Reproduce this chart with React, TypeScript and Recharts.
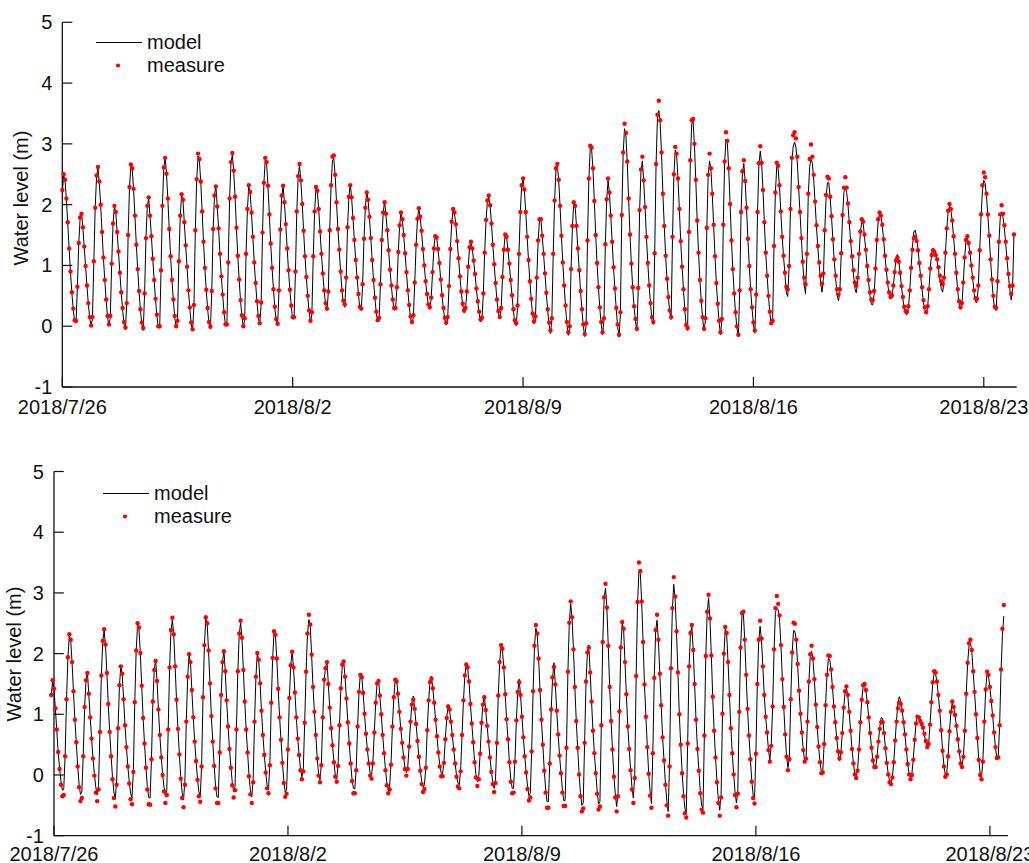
import { ComposedChart, Label, Legend, Line, ReferenceLine, XAxis, YAxis } from "recharts";

// hourly water level in metres, one row per tide cycle
const measureTop = [
  2.24, 2.5, 2.41, 2.1, 1.71, 1.28, 0.9, 0.56, 0.29, 0.1, 0.09,
  0.65, 1.37, 1.79, 1.85, 1.63, 1.31, 0.99, 0.67, 0.38, 0.15, 0.01, 0.15,
  1.07, 1.95, 2.48, 2.62, 2.38, 2.0, 1.55, 1.13, 0.76, 0.44, 0.17, 0.03, 0.17,
  1.03, 1.69, 1.98, 1.88, 1.55, 1.23, 0.88, 0.56, 0.3, 0.07, -0.02,
  0.38, 1.5, 2.29, 2.66, 2.6, 2.26, 1.82, 1.34, 0.94, 0.58, 0.28, 0.06, -0.03,
  0.54, 1.45, 1.98, 2.12, 1.82, 1.48, 1.11, 0.76, 0.45, 0.19, 0.0, 0.0,
  0.92, 1.98, 2.61, 2.77, 2.51, 2.1, 1.6, 1.15, 0.76, 0.44, 0.17, 0.0, 0.09,
  1.07, 1.82, 2.17, 2.08, 1.71, 1.33, 0.98, 0.59, 0.31, 0.06, -0.05,
  0.35, 1.58, 2.42, 2.84, 2.75, 2.38, 1.89, 1.39, 0.96, 0.6, 0.3, 0.07, -0.01,
  0.58, 1.6, 2.15, 2.3, 1.97, 1.61, 1.19, 0.82, 0.52, 0.23, 0.03, 0.03,
  1.05, 2.1, 2.7, 2.85, 2.56, 2.13, 1.62, 1.16, 0.77, 0.43, 0.18, 0.0, 0.13,
  1.19, 1.93, 2.32, 2.21, 1.87, 1.47, 1.05, 0.71, 0.41, 0.17, 0.05,
  0.39, 1.54, 2.36, 2.77, 2.7, 2.31, 1.84, 1.36, 0.96, 0.61, 0.32, 0.12, 0.04,
  0.59, 1.59, 2.15, 2.31, 2.04, 1.68, 1.28, 0.92, 0.6, 0.34, 0.15, 0.15,
  0.9, 1.89, 2.47, 2.67, 2.4, 2.01, 1.57, 1.15, 0.81, 0.5, 0.26, 0.09, 0.23,
  1.15, 1.89, 2.29, 2.23, 1.93, 1.56, 1.19, 0.87, 0.59, 0.38, 0.29,
  0.57, 1.58, 2.32, 2.79, 2.81, 2.49, 2.04, 1.6, 1.26, 0.9, 0.59, 0.42, 0.36,
  0.8, 1.63, 2.13, 2.32, 2.12, 1.78, 1.42, 1.09, 0.8, 0.53, 0.32, 0.29,
  0.69, 1.44, 1.95, 2.2, 2.08, 1.8, 1.45, 1.09, 0.76, 0.47, 0.24, 0.1, 0.14,
  0.69, 1.42, 1.87, 2.04, 1.85, 1.58, 1.25, 0.93, 0.67, 0.44, 0.3, 0.3,
  0.64, 1.22, 1.66, 1.87, 1.76, 1.5, 1.2, 0.89, 0.59, 0.35, 0.16, 0.07, 0.18,
  0.72, 1.34, 1.77, 1.94, 1.8, 1.57, 1.27, 1.0, 0.74, 0.53, 0.36, 0.31,
  0.47, 0.89, 1.28, 1.48, 1.46, 1.27, 1.04, 0.77, 0.51, 0.3, 0.14, 0.06, 0.15,
  0.66, 1.27, 1.72, 1.93, 1.87, 1.68, 1.4, 1.12, 0.82, 0.57, 0.37, 0.26, 0.3,
  0.57, 0.98, 1.3, 1.39, 1.28, 1.08, 0.86, 0.62, 0.41, 0.24, 0.11, 0.14,
  0.54, 1.21, 1.75, 2.07, 2.15, 1.99, 1.69, 1.34, 1.02, 0.71, 0.44, 0.25, 0.15, 0.3,
  0.81, 1.26, 1.51, 1.47, 1.26, 1.03, 0.76, 0.51, 0.28, 0.1, 0.05,
  0.34, 1.19, 1.88, 2.32, 2.43, 2.25, 1.88, 1.47, 1.09, 0.74, 0.45, 0.21, 0.08, 0.16,
  0.8, 1.41, 1.76, 1.76, 1.49, 1.19, 0.87, 0.55, 0.28, 0.06, -0.07, 0.13,
  1.19, 2.07, 2.6, 2.67, 2.41, 1.98, 1.49, 1.05, 0.67, 0.34, 0.07, -0.1, 0.0,
  0.94, 1.65, 2.04, 1.98, 1.65, 1.28, 0.92, 0.58, 0.28, 0.03, -0.13, 0.05,
  1.41, 2.43, 2.97, 2.94, 2.6, 2.06, 1.5, 1.04, 0.64, 0.31, 0.07, -0.1, 0.13,
  1.35, 2.09, 2.43, 2.2, 1.82, 1.39, 0.97, 0.62, 0.3, 0.03, -0.14, 0.23,
  1.83, 2.86, 3.33, 3.18, 2.71, 2.1, 1.51, 1.03, 0.64, 0.33, 0.12, -0.04,
  0.63, 1.91, 2.58, 2.79, 2.4, 1.96, 1.47, 1.04, 0.67, 0.38, 0.15, 0.07,
  1.2, 2.67, 3.48, 3.71, 3.39, 2.86, 2.18, 1.65, 1.16, 0.78, 0.48, 0.26, 0.15,
  1.47, 2.5, 2.95, 2.84, 2.43, 1.93, 1.4, 0.98, 0.61, 0.28, 0.02, -0.03,
  1.55, 2.73, 3.39, 3.41, 3.0, 2.41, 1.74, 1.21, 0.76, 0.42, 0.15, -0.04, 0.13,
  1.62, 2.49, 2.84, 2.6, 2.18, 1.67, 1.15, 0.71, 0.37, 0.09, -0.1, 0.12,
  1.67, 2.71, 3.19, 3.05, 2.6, 2.01, 1.41, 0.94, 0.54, 0.23, 0.0, -0.14,
  0.59, 1.88, 2.55, 2.73, 2.39, 1.95, 1.44, 0.99, 0.61, 0.31, 0.06, -0.07,
  0.52, 1.88, 2.68, 2.96, 2.69, 2.24, 1.71, 1.21, 0.83, 0.5, 0.24, 0.05, 0.09,
  1.32, 2.2, 2.69, 2.64, 2.32, 1.89, 1.47, 1.16, 0.88, 0.65, 0.61,
  0.99, 1.93, 2.77, 3.14, 3.19, 3.09, 2.79, 2.29, 1.88, 1.45, 1.06, 0.8, 0.69,
  1.19, 2.18, 2.75, 2.99, 2.79, 2.49, 2.05, 1.66, 1.32, 1.05, 0.83, 0.7, 0.87,
  1.58, 2.16, 2.46, 2.43, 2.13, 1.81, 1.43, 1.1, 0.83, 0.61, 0.52, 0.61,
  1.2, 1.83, 2.28, 2.45, 2.28, 2.02, 1.71, 1.4, 1.15, 0.92, 0.72, 0.67, 0.8,
  1.19, 1.56, 1.76, 1.72, 1.51, 1.26, 0.99, 0.76, 0.56, 0.44, 0.43, 0.58,
  0.95, 1.42, 1.76, 1.87, 1.82, 1.67, 1.43, 1.16, 0.93, 0.72, 0.56, 0.48, 0.51,
  0.67, 0.89, 1.08, 1.13, 1.06, 0.88, 0.66, 0.48, 0.32, 0.25, 0.24, 0.33,
  0.59, 0.96, 1.26, 1.45, 1.47, 1.4, 1.25, 1.04, 0.83, 0.64, 0.43, 0.31, 0.23, 0.33,
  0.61, 0.95, 1.17, 1.25, 1.22, 1.17, 1.1, 0.97, 0.83, 0.74, 0.69,
  0.8, 1.21, 1.61, 1.9, 2.01, 1.93, 1.74, 1.48, 1.19, 0.88, 0.61, 0.41, 0.31, 0.38,
  0.72, 1.13, 1.42, 1.48, 1.37, 1.21, 1.0, 0.8, 0.59, 0.46, 0.45,
  0.67, 1.25, 1.84, 2.32, 2.53, 2.45, 2.18, 1.84, 1.49, 1.1, 0.77, 0.5, 0.32, 0.3,
  0.74, 1.39, 1.84, 1.99, 1.85, 1.66, 1.39, 1.12, 0.86, 0.66, 0.53,
  0.67, 1.51,
];

const modelTop = [
  2.2, 2.48, 2.4, 2.08, 1.68, 1.27, 0.88, 0.54, 0.27, 0.07, 0.05,
  0.64, 1.36, 1.78, 1.86, 1.62, 1.3, 0.98, 0.66, 0.36, 0.13, 0.0, 0.13,
  1.06, 1.96, 2.46, 2.6, 2.36, 1.98, 1.54, 1.12, 0.75, 0.42, 0.15, 0.0, 0.14,
  1.02, 1.68, 1.98, 1.87, 1.54, 1.22, 0.87, 0.54, 0.27, 0.04, -0.06,
  0.36, 1.49, 2.28, 2.64, 2.58, 2.25, 1.8, 1.33, 0.93, 0.56, 0.26, 0.03, -0.07,
  0.52, 1.44, 1.98, 2.11, 1.8, 1.47, 1.1, 0.75, 0.43, 0.17, -0.02, -0.03,
  0.9, 1.97, 2.6, 2.78, 2.5, 2.08, 1.59, 1.14, 0.75, 0.42, 0.15, -0.02, 0.07,
  1.06, 1.8, 2.16, 2.07, 1.7, 1.32, 0.96, 0.58, 0.29, 0.04, -0.07,
  0.33, 1.57, 2.4, 2.8, 2.72, 2.36, 1.88, 1.38, 0.95, 0.58, 0.28, 0.05, -0.04,
  0.56, 1.59, 2.15, 2.32, 1.96, 1.6, 1.18, 0.81, 0.5, 0.21, 0.01, 0.01,
  1.04, 2.09, 2.68, 2.82, 2.55, 2.12, 1.61, 1.15, 0.76, 0.41, 0.16, -0.02, 0.11,
  1.18, 1.92, 2.3, 2.2, 1.85, 1.46, 1.04, 0.7, 0.39, 0.14, 0.02,
  0.37, 1.53, 2.35, 2.74, 2.68, 2.3, 1.83, 1.35, 0.95, 0.6, 0.3, 0.09, 0.01,
  0.57, 1.58, 2.14, 2.3, 2.03, 1.67, 1.27, 0.91, 0.58, 0.32, 0.12, 0.12,
  0.88, 1.88, 2.46, 2.65, 2.38, 2.0, 1.56, 1.14, 0.8, 0.48, 0.24, 0.06, 0.2,
  1.14, 1.88, 2.28, 2.22, 1.92, 1.55, 1.18, 0.86, 0.57, 0.36, 0.26,
  0.55, 1.57, 2.31, 2.72, 2.76, 2.47, 2.03, 1.59, 1.25, 0.89, 0.57, 0.38, 0.31,
  0.78, 1.62, 2.13, 2.34, 2.11, 1.77, 1.41, 1.08, 0.79, 0.52, 0.29, 0.26,
  0.67, 1.43, 1.95, 2.23, 2.07, 1.79, 1.44, 1.08, 0.75, 0.45, 0.22, 0.07, 0.11,
  0.67, 1.41, 1.86, 2.06, 1.84, 1.57, 1.24, 0.92, 0.66, 0.42, 0.27, 0.27,
  0.62, 1.21, 1.65, 1.88, 1.75, 1.49, 1.19, 0.88, 0.58, 0.33, 0.13, 0.04, 0.15,
  0.7, 1.33, 1.76, 1.94, 1.79, 1.56, 1.26, 0.99, 0.73, 0.51, 0.33, 0.28,
  0.45, 0.88, 1.28, 1.5, 1.46, 1.26, 1.03, 0.76, 0.49, 0.27, 0.11, 0.02, 0.12,
  0.64, 1.26, 1.71, 1.93, 1.86, 1.67, 1.39, 1.11, 0.81, 0.55, 0.35, 0.22, 0.27,
  0.55, 0.97, 1.3, 1.4, 1.27, 1.07, 0.85, 0.61, 0.39, 0.21, 0.07, 0.1,
  0.52, 1.2, 1.74, 2.06, 2.13, 1.98, 1.68, 1.33, 1.01, 0.7, 0.42, 0.22, 0.12, 0.27,
  0.79, 1.25, 1.52, 1.48, 1.25, 1.02, 0.75, 0.49, 0.25, 0.06, 0.01,
  0.31, 1.18, 1.87, 2.31, 2.42, 2.23, 1.87, 1.46, 1.08, 0.73, 0.43, 0.18, 0.04, 0.12,
  0.78, 1.4, 1.76, 1.77, 1.48, 1.18, 0.86, 0.54, 0.25, 0.02, -0.12, 0.1,
  1.18, 2.06, 2.58, 2.64, 2.4, 1.97, 1.48, 1.04, 0.66, 0.32, 0.03, -0.15, -0.04,
  0.93, 1.64, 2.05, 1.97, 1.64, 1.27, 0.91, 0.56, 0.25, -0.01, -0.17, 0.02,
  1.4, 2.42, 2.94, 2.92, 2.58, 2.05, 1.49, 1.03, 0.63, 0.29, 0.04, -0.14, 0.1,
  1.34, 2.08, 2.4, 2.19, 1.81, 1.38, 0.96, 0.6, 0.27, -0.01, -0.18, 0.2,
  1.82, 2.84, 3.25, 3.14, 2.69, 2.09, 1.5, 1.02, 0.62, 0.31, 0.08, -0.08,
  0.6, 1.9, 2.55, 2.72, 2.38, 1.95, 1.46, 1.03, 0.66, 0.36, 0.11, 0.03,
  1.18, 2.65, 3.42, 3.55, 3.34, 2.84, 2.17, 1.64, 1.15, 0.77, 0.47, 0.23, 0.11,
  1.45, 2.48, 2.9, 2.82, 2.42, 1.92, 1.39, 0.97, 0.6, 0.26, -0.01, -0.07,
  1.53, 2.7, 3.33, 3.38, 2.98, 2.4, 1.73, 1.2, 0.75, 0.4, 0.12, -0.08, 0.1,
  1.6, 2.47, 2.72, 2.58, 2.17, 1.66, 1.14, 0.7, 0.35, 0.06, -0.14, 0.09,
  1.65, 2.69, 3.08, 3.01, 2.58, 2.0, 1.4, 0.93, 0.53, 0.21, -0.03, -0.17,
  0.57, 1.87, 2.53, 2.68, 2.37, 1.94, 1.43, 0.98, 0.6, 0.29, 0.03, -0.11,
  0.5, 1.87, 2.66, 2.88, 2.67, 2.23, 1.7, 1.2, 0.82, 0.49, 0.21, 0.02, 0.06,
  1.3, 2.18, 2.62, 2.6, 2.3, 1.88, 1.46, 1.14, 0.85, 0.55, 0.49,
  0.96, 1.9, 2.72, 2.95, 3.03, 2.95, 2.7, 2.27, 1.86, 1.43, 1.03, 0.7, 0.53,
  1.15, 2.15, 2.62, 2.76, 2.68, 2.4, 2.02, 1.63, 1.29, 1.0, 0.72, 0.56, 0.78,
  1.55, 2.13, 2.36, 2.36, 2.1, 1.78, 1.41, 1.07, 0.78, 0.52, 0.42, 0.55,
  1.17, 1.8, 2.2, 2.28, 2.2, 1.98, 1.68, 1.37, 1.1, 0.85, 0.62, 0.55, 0.72,
  1.16, 1.54, 1.72, 1.7, 1.48, 1.23, 0.96, 0.72, 0.5, 0.36, 0.35, 0.52,
  0.92, 1.4, 1.74, 1.85, 1.8, 1.65, 1.41, 1.14, 0.9, 0.68, 0.52, 0.46, 0.48,
  0.65, 0.89, 1.12, 1.18, 1.08, 0.88, 0.65, 0.45, 0.28, 0.2, 0.19, 0.3,
  0.57, 0.98, 1.32, 1.55, 1.58, 1.46, 1.28, 1.03, 0.81, 0.6, 0.38, 0.27, 0.2, 0.3,
  0.6, 0.96, 1.2, 1.28, 1.24, 1.16, 1.07, 0.92, 0.76, 0.62, 0.56,
  0.74, 1.19, 1.6, 1.88, 1.98, 1.91, 1.72, 1.46, 1.17, 0.86, 0.58, 0.38, 0.28, 0.34,
  0.7, 1.11, 1.4, 1.46, 1.35, 1.19, 0.97, 0.76, 0.54, 0.4, 0.39,
  0.64, 1.23, 1.8, 2.22, 2.4, 2.35, 2.13, 1.81, 1.46, 1.07, 0.73, 0.45, 0.28, 0.26,
  0.71, 1.37, 1.78, 1.88, 1.8, 1.62, 1.36, 1.08, 0.82, 0.6, 0.43,
  0.62, 1.51,
];

const measureBottom = [
  1.32, 1.56, 1.42, 1.1, 0.75, 0.38, 0.1, -0.16, -0.35, -0.33,
  0.31, 1.25, 1.94, 2.32, 2.23, 1.86, 1.38, 0.91, 0.54, 0.14, -0.2, -0.43, -0.38,
  0.31, 1.12, 1.56, 1.68, 1.34, 0.95, 0.6, 0.27, -0.01, -0.29, -0.43, -0.24,
  0.71, 1.64, 2.21, 2.4, 2.15, 1.68, 1.17, 0.71, 0.31, -0.07, -0.38, -0.52, -0.16,
  0.77, 1.48, 1.79, 1.67, 1.25, 0.82, 0.46, 0.14, -0.14, -0.4, -0.48,
  0.05, 1.2, 2.05, 2.5, 2.43, 2.01, 1.47, 0.94, 0.52, 0.12, -0.24, -0.48, -0.49,
  0.26, 1.21, 1.73, 1.88, 1.55, 1.08, 0.66, 0.29, 0.0, -0.27, -0.46, -0.33,
  0.75, 1.77, 2.39, 2.59, 2.32, 1.79, 1.24, 0.76, 0.34, -0.06, -0.38, -0.53, -0.16,
  0.88, 1.62, 1.99, 1.86, 1.4, 0.95, 0.55, 0.23, -0.08, -0.35, -0.44,
  0.14, 1.28, 2.14, 2.6, 2.5, 2.05, 1.51, 0.97, 0.55, 0.15, -0.22, -0.46, -0.46,
  0.37, 1.32, 1.86, 2.04, 1.71, 1.23, 0.8, 0.43, 0.12, -0.17, -0.37, -0.25,
  0.75, 1.71, 2.33, 2.54, 2.26, 1.73, 1.21, 0.75, 0.37, -0.02, -0.32, -0.46, -0.12,
  0.88, 1.62, 2.01, 1.9, 1.51, 1.06, 0.66, 0.33, 0.04, -0.22, -0.3,
  0.16, 1.19, 1.93, 2.37, 2.31, 1.92, 1.42, 0.95, 0.58, 0.2, -0.13, -0.36, -0.31,
  0.42, 1.27, 1.81, 2.03, 1.77, 1.36, 0.95, 0.6, 0.33, 0.08, -0.07, 0.06,
  0.86, 1.7, 2.33, 2.64, 2.48, 1.98, 1.45, 1.04, 0.66, 0.27, -0.01, -0.12, 0.16,
  0.95, 1.57, 1.76, 1.86, 1.5, 1.11, 0.77, 0.49, 0.21, -0.03, -0.11, 0.15,
  0.82, 1.43, 1.82, 1.87, 1.62, 1.26, 0.87, 0.52, 0.19, -0.1, -0.3, -0.3, 0.08,
  0.8, 1.37, 1.65, 1.61, 1.35, 1.01, 0.68, 0.42, 0.19, -0.01, -0.06, 0.19,
  0.7, 1.19, 1.51, 1.55, 1.31, 1.0, 0.66, 0.36, 0.08, -0.17, -0.3, -0.24, 0.17,
  0.8, 1.28, 1.57, 1.54, 1.34, 1.04, 0.76, 0.53, 0.29, 0.1, -0.01, 0.1,
  0.47, 0.88, 1.16, 1.24, 1.09, 0.84, 0.56, 0.3, 0.07, -0.15, -0.28, -0.23, 0.12,
  0.74, 1.23, 1.53, 1.59, 1.43, 1.19, 0.91, 0.64, 0.37, 0.14, -0.02, -0.02, 0.2,
  0.59, 0.94, 1.13, 1.08, 0.88, 0.66, 0.42, 0.19, -0.03, -0.19, -0.22, 0.06,
  0.66, 1.23, 1.64, 1.82, 1.77, 1.54, 1.17, 0.85, 0.54, 0.21, -0.04, -0.18, -0.07,
  0.35, 0.86, 1.16, 1.28, 1.07, 0.81, 0.55, 0.29, 0.05, -0.15, -0.28, -0.13,
  0.53, 1.31, 1.86, 2.14, 2.08, 1.77, 1.33, 0.92, 0.59, 0.21, -0.11, -0.3, -0.29,
  0.22, 0.9, 1.37, 1.53, 1.32, 0.96, 0.62, 0.31, 0.04, -0.23, -0.42, -0.37,
  0.39, 1.38, 2.13, 2.47, 2.33, 1.92, 1.4, 0.91, 0.5, 0.07, -0.29, -0.54, -0.54,
  0.19, 1.08, 1.61, 1.78, 1.49, 1.06, 0.67, 0.32, 0.03, -0.29, -0.51, -0.51,
  0.45, 1.7, 2.51, 2.86, 2.6, 2.07, 1.45, 0.89, 0.45, 0.01, -0.35, -0.6, -0.55,
  0.53, 1.54, 2.02, 2.1, 1.69, 1.21, 0.73, 0.36, 0.03, -0.31, -0.57, -0.52,
  0.82, 2.19, 2.93, 3.15, 2.76, 2.13, 1.45, 0.89, 0.42, -0.03, -0.37, -0.6, -0.35,
  1.05, 2.1, 2.52, 2.41, 1.86, 1.33, 0.8, 0.43, 0.08, -0.24, -0.46, -0.05,
  1.63, 2.85, 3.5, 3.36, 2.86, 2.19, 1.49, 0.96, 0.46, 0.02, -0.34, -0.54, 0.36,
  1.6, 2.39, 2.64, 2.23, 1.67, 1.15, 0.62, 0.24, -0.16, -0.5, -0.67, 0.14,
  1.76, 2.75, 3.26, 2.94, 2.37, 1.69, 1.0, 0.5, 0.03, -0.35, -0.63, -0.7,
  0.52, 1.79, 2.34, 2.47, 2.06, 1.5, 0.91, 0.43, 0.07, -0.3, -0.57, -0.62,
  0.65, 1.96, 2.69, 2.97, 2.58, 1.97, 1.29, 0.73, 0.29, -0.12, -0.46, -0.67, -0.37,
  1.01, 2.0, 2.44, 2.34, 1.86, 1.32, 0.77, 0.36, 0.01, -0.33, -0.53, -0.31,
  1.04, 2.1, 2.67, 2.69, 2.23, 1.65, 1.09, 0.65, 0.26, -0.11, -0.38, -0.47,
  0.35, 1.5, 2.23, 2.54, 2.25, 1.79, 1.32, 0.96, 0.7, 0.41, 0.22,
  0.48, 1.13, 2.07, 2.75, 2.95, 2.82, 2.63, 2.14, 1.58, 1.12, 0.67, 0.3, 0.08, 0.26,
  1.25, 2.02, 2.51, 2.49, 2.23, 1.83, 1.39, 1.01, 0.7, 0.41, 0.22, 0.27,
  0.88, 1.54, 1.99, 2.13, 1.92, 1.58, 1.16, 0.79, 0.47, 0.21, 0.03, 0.04,
  0.51, 1.15, 1.65, 1.97, 1.96, 1.74, 1.45, 1.13, 0.87, 0.61, 0.39, 0.27, 0.37,
  0.69, 1.11, 1.38, 1.46, 1.32, 1.04, 0.73, 0.43, 0.19, 0.01, -0.05, 0.07,
  0.42, 0.87, 1.24, 1.48, 1.5, 1.4, 1.2, 0.95, 0.69, 0.45, 0.24, 0.13, 0.13,
  0.3, 0.55, 0.76, 0.87, 0.87, 0.69, 0.44, 0.2, 0.01, -0.12, -0.15, -0.04,
  0.21, 0.57, 0.88, 1.1, 1.19, 1.17, 1.06, 0.87, 0.67, 0.42, 0.18, 0.01, -0.07, 0.0,
  0.25, 0.58, 0.85, 0.96, 0.95, 0.89, 0.84, 0.78, 0.68, 0.56, 0.46, 0.51,
  0.83, 1.2, 1.53, 1.71, 1.69, 1.54, 1.32, 1.06, 0.74, 0.4, 0.14, -0.03, 0.01,
  0.31, 0.72, 1.04, 1.21, 1.12, 0.99, 0.81, 0.59, 0.39, 0.19, 0.13, 0.3,
  0.73, 1.34, 1.85, 2.17, 2.23, 2.06, 1.71, 1.37, 1.0, 0.61, 0.25, 0.0, -0.07, 0.22,
  0.88, 1.41, 1.7, 1.65, 1.45, 1.22, 0.98, 0.7, 0.46, 0.28, 0.29,
  0.82, 1.74, 2.41, 2.8,
];

const modelBottom = [
  1.3, 1.54, 1.4, 1.09, 0.74, 0.38, 0.12, -0.1, -0.25, -0.24,
  0.32, 1.24, 1.93, 2.3, 2.22, 1.85, 1.37, 0.91, 0.54, 0.15, -0.15, -0.32, -0.28,
  0.32, 1.11, 1.56, 1.7, 1.33, 0.95, 0.6, 0.28, 0.02, -0.2, -0.33, -0.17,
  0.72, 1.63, 2.2, 2.38, 2.14, 1.67, 1.16, 0.71, 0.32, -0.03, -0.28, -0.39, -0.1,
  0.77, 1.47, 1.8, 1.66, 1.24, 0.82, 0.47, 0.15, -0.1, -0.3, -0.38,
  0.07, 1.19, 2.04, 2.47, 2.41, 2.0, 1.46, 0.94, 0.52, 0.14, -0.19, -0.37, -0.38,
  0.27, 1.2, 1.73, 1.9, 1.54, 1.07, 0.66, 0.3, 0.02, -0.2, -0.35, -0.25,
  0.75, 1.76, 2.37, 2.56, 2.31, 1.78, 1.23, 0.76, 0.35, -0.02, -0.29, -0.41, -0.1,
  0.88, 1.61, 1.99, 1.85, 1.39, 0.95, 0.56, 0.24, -0.05, -0.27, -0.36,
  0.15, 1.27, 2.13, 2.58, 2.48, 2.04, 1.5, 0.97, 0.55, 0.16, -0.18, -0.36, -0.37,
  0.38, 1.31, 1.85, 2.06, 1.7, 1.22, 0.8, 0.44, 0.14, -0.12, -0.28, -0.19,
  0.75, 1.7, 2.32, 2.51, 2.25, 1.72, 1.2, 0.75, 0.38, 0.01, -0.25, -0.36, -0.07,
  0.88, 1.61, 2.02, 1.89, 1.5, 1.05, 0.66, 0.34, 0.06, -0.17, -0.24,
  0.17, 1.18, 1.92, 2.35, 2.3, 1.91, 1.41, 0.95, 0.58, 0.21, -0.09, -0.28, -0.25,
  0.42, 1.26, 1.8, 2.05, 1.76, 1.35, 0.95, 0.6, 0.34, 0.1, -0.03, 0.09,
  0.86, 1.69, 2.32, 2.56, 2.46, 1.97, 1.44, 1.04, 0.66, 0.28, 0.02, -0.08, 0.18,
  0.95, 1.56, 1.77, 1.88, 1.49, 1.1, 0.77, 0.49, 0.22, -0.01, -0.07, 0.18,
  0.82, 1.42, 1.8, 1.87, 1.61, 1.25, 0.87, 0.52, 0.2, -0.07, -0.22, -0.23, 0.1,
  0.8, 1.36, 1.67, 1.62, 1.34, 1.0, 0.68, 0.42, 0.2, 0.03, -0.01, 0.21,
  0.7, 1.18, 1.52, 1.58, 1.3, 1.0, 0.66, 0.37, 0.1, -0.13, -0.24, -0.18, 0.19,
  0.8, 1.27, 1.58, 1.57, 1.33, 1.04, 0.76, 0.53, 0.31, 0.12, 0.04, 0.13,
  0.47, 0.87, 1.18, 1.3, 1.08, 0.84, 0.56, 0.31, 0.09, -0.1, -0.2, -0.16, 0.14,
  0.74, 1.22, 1.54, 1.63, 1.42, 1.18, 0.91, 0.64, 0.38, 0.16, 0.03, 0.02, 0.22,
  0.59, 0.93, 1.16, 1.07, 0.88, 0.66, 0.42, 0.2, 0.0, -0.13, -0.16, 0.09,
  0.66, 1.22, 1.63, 1.83, 1.76, 1.53, 1.17, 0.85, 0.54, 0.23, 0.0, -0.11, -0.02,
  0.36, 0.85, 1.17, 1.32, 1.06, 0.81, 0.55, 0.3, 0.07, -0.11, -0.22, -0.08,
  0.54, 1.3, 1.85, 2.12, 2.06, 1.76, 1.32, 0.92, 0.59, 0.22, -0.07, -0.22, -0.22,
  0.24, 0.9, 1.36, 1.58, 1.31, 0.96, 0.62, 0.32, 0.06, -0.18, -0.34, -0.3,
  0.4, 1.37, 2.12, 2.42, 2.31, 1.91, 1.39, 0.91, 0.5, 0.09, -0.23, -0.44, -0.44,
  0.21, 1.07, 1.6, 1.85, 1.48, 1.05, 0.67, 0.32, 0.05, -0.23, -0.42, -0.42,
  0.46, 1.69, 2.5, 2.82, 2.58, 2.06, 1.44, 0.89, 0.45, 0.03, -0.29, -0.5, -0.46,
  0.54, 1.53, 2.02, 2.14, 1.68, 1.2, 0.73, 0.36, 0.05, -0.26, -0.48, -0.44,
  0.82, 2.18, 2.9, 3.08, 2.74, 2.12, 1.44, 0.89, 0.42, -0.01, -0.31, -0.52, -0.3,
  1.05, 2.09, 2.5, 2.4, 1.85, 1.32, 0.8, 0.43, 0.1, -0.2, -0.38, 0.0,
  1.63, 2.83, 3.35, 3.32, 2.84, 2.18, 1.48, 0.96, 0.47, 0.04, -0.27, -0.47, 0.38,
  1.6, 2.37, 2.55, 2.21, 1.66, 1.14, 0.62, 0.25, -0.13, -0.42, -0.6, 0.18,
  1.75, 2.72, 3.14, 2.9, 2.35, 1.68, 1.0, 0.5, 0.05, -0.3, -0.55, -0.62,
  0.54, 1.78, 2.33, 2.45, 2.05, 1.49, 0.91, 0.44, 0.09, -0.25, -0.5, -0.55,
  0.66, 1.95, 2.66, 2.92, 2.56, 1.96, 1.28, 0.73, 0.3, -0.09, -0.4, -0.58, -0.32,
  1.01, 1.98, 2.42, 2.32, 1.85, 1.31, 0.77, 0.37, 0.03, -0.28, -0.46, -0.27,
  1.04, 2.08, 2.64, 2.66, 2.21, 1.64, 1.08, 0.65, 0.27, -0.08, -0.33, -0.4,
  0.37, 1.49, 2.2, 2.45, 2.23, 1.77, 1.31, 0.95, 0.7, 0.42, 0.25,
  0.5, 1.12, 2.03, 2.68, 2.75, 2.72, 2.55, 2.12, 1.57, 1.11, 0.67, 0.31, 0.12, 0.28,
  1.24, 2.0, 2.38, 2.37, 2.2, 1.8, 1.37, 1.0, 0.69, 0.41, 0.23, 0.28,
  0.87, 1.52, 1.95, 2.04, 1.89, 1.56, 1.15, 0.79, 0.47, 0.22, 0.05, 0.06,
  0.52, 1.14, 1.63, 1.92, 1.9, 1.72, 1.43, 1.12, 0.86, 0.61, 0.39, 0.23, 0.36,
  0.69, 1.1, 1.36, 1.43, 1.3, 1.03, 0.73, 0.43, 0.19, 0.02, -0.03, 0.08,
  0.43, 0.87, 1.23, 1.46, 1.48, 1.38, 1.19, 0.95, 0.69, 0.45, 0.24, 0.14, 0.14,
  0.31, 0.56, 0.8, 0.95, 0.93, 0.7, 0.44, 0.2, 0.02, -0.1, -0.12, -0.03,
  0.22, 0.58, 0.92, 1.2, 1.29, 1.22, 1.07, 0.87, 0.66, 0.42, 0.18, 0.02, -0.05, 0.02,
  0.26, 0.58, 0.86, 0.97, 0.96, 0.88, 0.82, 0.75, 0.65, 0.54, 0.45, 0.5,
  0.83, 1.2, 1.52, 1.68, 1.67, 1.53, 1.31, 1.05, 0.74, 0.41, 0.16, 0.0, 0.03,
  0.32, 0.72, 1.04, 1.2, 1.11, 0.98, 0.8, 0.58, 0.38, 0.2, 0.14, 0.31,
  0.73, 1.33, 1.83, 2.13, 2.18, 2.04, 1.7, 1.36, 1.0, 0.61, 0.26, 0.03, -0.03, 0.24,
  0.88, 1.4, 1.69, 1.63, 1.44, 1.21, 0.97, 0.7, 0.46, 0.28, 0.3,
  0.82, 1.72, 2.3, 2.62,
];

const dateLabels = ["2018/7/26", "2018/8/2", "2018/8/9", "2018/8/16", "2018/8/23"];
const dateHours = [0, 168, 336, 504, 672];
const levelTicks = [-1, 0, 1, 2, 3, 4, 5];

const FONT = '"Liberation Sans", Arial, sans-serif';

type PanelProps = {
  measure: number[];
  model: number[];
  firstHour: number;
  lastHour: number;
  top: number;
  height: number;
  plotLeft: number;
  plotRight: number;
  plotTop: number;
  plotBottom: number;
  axisX: number;
  labelX: number;
  labelY: number;
  labelDrop: number;
  legendLeft: number;
  legendTop: number;
};

function TideLegend() {
  return (
    <div style={{ fontFamily: FONT, fontSize: 20, color: "#111", lineHeight: "23px", whiteSpace: "nowrap" }}>
      <div style={{ display: "flex", alignItems: "center", height: 23 }}>
        <svg width={51} height={23}>
          <line x1={0} x2={46} y1={11.5} y2={11.5} stroke="#000" strokeWidth={1} />
        </svg>
        model
      </div>
      <div style={{ display: "flex", alignItems: "center", height: 23 }}>
        <svg width={51} height={23}>
          <circle cx={22} cy={11.5} r={2.1} fill="#ff0000" />
        </svg>
        measure
      </div>
    </div>
  );
}

function Panel(p: PanelProps) {
  const table = p.measure.map((v, i) => ({
    hour: i + p.firstHour,
    measure: v,
    model: p.model[i],
  }));
  const baseY = p.height - p.plotBottom;

  return (
    <div style={{ position: "absolute", left: 0, top: p.top, width: 1029, height: p.height }}>
      <ComposedChart
        width={1029}
        height={p.height}
        data={table}
        margin={{ top: p.plotTop, right: p.plotRight, bottom: p.plotBottom - 1, left: p.plotLeft - 1 }}
      >
        <XAxis
          dataKey="hour"
          type="number"
          domain={[p.firstHour, p.lastHour]}
          ticks={dateHours}
          interval={0}
          height={1}
          axisLine={false}
          tickLine={false}
          tick={(t: any) => (
            <g>
              <line x1={t.x} x2={t.x} y1={baseY} y2={baseY - 10} stroke="#111" strokeWidth={1.2} />
              <text x={t.x} y={baseY + p.labelDrop} textAnchor="middle" fontFamily={FONT} fontSize={20} fill="#111">
                {dateLabels[dateHours.indexOf(t.payload.value)]}
              </text>
            </g>
          )}
        />
        <YAxis
          type="number"
          domain={[-1, 5]}
          ticks={levelTicks}
          interval={0}
          width={1}
          axisLine={false}
          tickLine={false}
          tick={(t: any) => (
            <g>
              <line x1={p.axisX} x2={p.axisX + 10} y1={t.y} y2={t.y} stroke="#111" strokeWidth={1.2} />
              <text x={p.axisX - 10} y={t.y + 7} textAnchor="end" fontFamily={FONT} fontSize={20} fill="#111">
                {t.payload.value}
              </text>
            </g>
          )}
        >
          <Label
            content={() => (
              <text
                x={p.labelX}
                y={p.labelY}
                transform={`rotate(-90 ${p.labelX} ${p.labelY})`}
                textAnchor="middle"
                fontFamily={FONT}
                fontSize={20}
                fill="#111"
              >
                Water level (m)
              </text>
            )}
          />
        </YAxis>
        <ReferenceLine x={0} stroke="#111" strokeWidth={1.3} />
        <ReferenceLine
          segment={[
            { x: 0, y: -1 },
            { x: p.lastHour, y: -1 },
          ]}
          stroke="#111"
          strokeWidth={1.3}
        />
        <Line
          dataKey="model"
          name="model"
          type="linear"
          stroke="#000"
          strokeWidth={1}
          dot={false}
          isAnimationActive={false}
        />
        <Line
          dataKey="measure"
          name="measure"
          type="linear"
          stroke="none"
          dot={{ r: 2.2, fill: "#ff0000", stroke: "none" }}
          isAnimationActive={false}
        />
        <Legend
          layout="horizontal"
          align="center"
          verticalAlign="middle"
          content={() => <TideLegend />}
          wrapperStyle={{ left: p.legendLeft, top: p.legendTop, width: 200, height: 46, bottom: "auto", right: "auto" }}
        />
      </ComposedChart>
    </div>
  );
}

export default function App() {
  return (
    <div style={{ position: "absolute", left: 0, top: 0, width: 1029, height: 863, overflow: "hidden", background: "#fff" }}>
      <Panel
        measure={measureTop}
        model={modelTop}
        firstHour={0}
        lastHour={696}
        top={0}
        height={430}
        plotLeft={62.3}
        plotRight={12.3}
        plotTop={22.3}
        plotBottom={43}
        axisX={62.3}
        labelX={28}
        labelY={198}
        labelDrop={27}
        legendLeft={96}
        legendTop={31}
      />
      <Panel
        measure={measureBottom}
        model={modelBottom}
        firstHour={-2}
        lastHour={685}
        top={430}
        height={433}
        plotLeft={51.2}
        plotRight={21}
        plotTop={41.5}
        plotBottom={27.3}
        axisX={53.8}
        labelX={21}
        labelY={224}
        labelDrop={25}
        legendLeft={103}
        legendTop={52}
      />
    </div>
  );
}
